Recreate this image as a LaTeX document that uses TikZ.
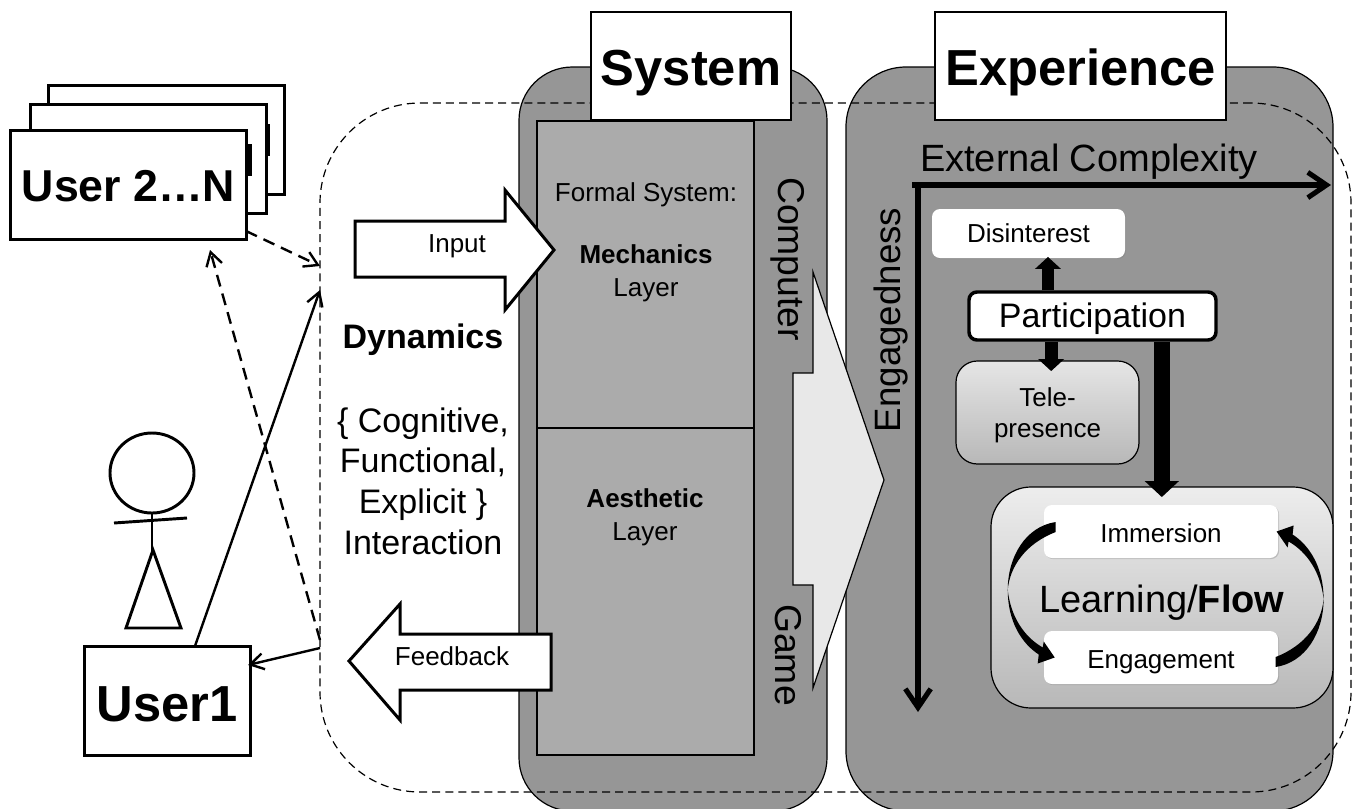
\documentclass[tikz,border=0pt]{standalone}
\usepackage{fontspec}
\setmainfont{Liberation Sans}
\usetikzlibrary{arrows.meta,shadows}
\newcommand{\fsz}[1]{\fontsize{#1}{#1}\selectfont}
\newcommand{\low}[2]{\raisebox{-#1}[\height][\depth]{#2}}
% tapered arc between the two flow boxes
\newcommand{\looparc}{\fill (12,-9.5) .. controls (-18,-5) and (-36,25) .. (-36,58.5)
  .. controls (-36,90) and (-22,112) .. (-5,123) -- (-6,132) -- (11,126) -- (0,110) -- (-1,116)
  .. controls (-20,105) and (-33,85) .. (-36,58.5) .. controls (-34,35) and (-18,12) .. (12,.5) -- cycle;}
\tikzset{
  userbox/.style={draw,line width=2.25pt,fill=white,inner sep=0pt,minimum width=177pt,minimum height=81.75pt},
  panel/.style={draw,line width=.9pt,fill=panelgray,inner sep=0pt,minimum height=558pt},
  titlebox/.style={draw,line width=2pt,fill=white,inner sep=0pt,minimum height=81pt,font=\fsz{38}\bfseries},
  layerbox/.style={draw,line width=.9pt,fill=layergray,inner sep=0pt,minimum width=162.75pt},
  whitebox/.style={fill=white,rounded corners=6pt,inner sep=0pt,font=\fsz{19.5},
    drop shadow={shadow xshift=.8pt,shadow yshift=-.8pt,opacity=.35}},
  gradbox/.style={draw,line width=.9pt,top color=#1,bottom color=black!28,inner sep=0pt},
  bigarrow/.style={draw,line width=2.25pt,fill=white},
  thickarrow/.style={line width=9.5pt,-{Triangle[width=19pt,length=9pt]}},
  axisline/.style={line width=3.8pt,-{Straight Barb[length=14pt,width=19pt,line width=3.8pt]}},
  linkline/.style={line width=1.8pt,-{Straight Barb[length=10pt,width=12pt,line width=1.8pt]}},
  dashlink/.style={linkline,dash pattern=on 9pt off 5.5pt},
  stickline/.style={line width=2.2pt},
  label/.style={font=\fsz{19.5},inner sep=0pt}
}
\definecolor{panelgray}{HTML}{969696}
\definecolor{layergray}{HTML}{ABABAB}
\begin{document}
\begin{tikzpicture}[x=.75pt,y=-.75pt]
\useasboundingbox (0,0) rectangle (1354,808);

% panels behind everything
\node[panel,minimum width=231pt,rounded corners=40pt] (systempanel) at (673,439) {};
\node[panel,minimum width=365.25pt,rounded corners=45pt] (experiencepanel) at (1089.5,439) {};
\node[layerbox,minimum height=230.25pt] (mechlayer) at (645.5,274.5) {};
\node[layerbox,minimum height=245.25pt] (aestlayer) at (645.5,591.5) {};

% dashed dynamics region
\node[draw,dash pattern=on 6pt off 3.8pt,line width=.9pt,rounded corners=75pt,inner sep=0pt,minimum width=773.25pt,minimum height=516.75pt] (dynregion) at (835.5,447.5) {};

\node[titlebox,minimum width=150pt] (systemtitle) at (691,66) {\low{5pt}{System}};
\node[titlebox,minimum width=218.25pt] (experiencetitle) at (1080.5,66) {\low{5pt}{Experience}};

% users
\node[userbox] (userback) at (166,139.5) {};
\fill (266,124) rectangle (270,156);
\node[userbox] (usermid) at (148,158.5) {};
\fill (246,144) rectangle (252,176);
\node[userbox,font=\fsz{33.5}\bfseries] (usertwo) at (128.5,185) {\low{1pt}{User 2…N}};
\node[userbox,minimum width=124.5pt,font=\fsz{38}\bfseries] (userone) at (167,700.5) {\low{3pt}{User1}};

% stick figure
\draw[stickline] (152,473) ellipse (42 and 40);
\draw[stickline] (152,513) -- (152,552);
\draw[stickline] (114,523) -- (187,518);
\draw[stickline] (153,550) -- (126,628) -- (181,628) -- cycle;

% links between users and region
\coordinate (regionin) at (320,290);
\coordinate (regionmid) at (320,266);
\coordinate (regionout) at (320,648);
\coordinate (regionback) at (320,640);
\coordinate (usertwoin) at (210,250);
\draw[linkline] (195,646) -- (regionin);
\draw[linkline] (regionout) -- (248,665);
\draw[dashlink] (regionback) -- (usertwoin);
\draw[dashlink] (246,231) -- (regionmid);

% input and feedback arrows
\draw[bigarrow] (355,221) -- (505,221) -- (505,190) -- (554,250) -- (505,310) -- (505,277) -- (355,277) -- cycle;
\node[label] (inputlabel) at (457,246) {Input};
\draw[bigarrow] (551,634) -- (400,634) -- (400,604) -- (349,661) -- (400,720) -- (400,690) -- (551,690) -- cycle;
\node[label] (feedbacklabel) at (452,656) {Feedback};

\node[font=\fsz{25.5}\bfseries,inner sep=0pt] (dynamics) at (423,340) {Dynamics};
\node[font=\fsz{25.5},align=center,inner sep=0pt] (interaction) at (423,481) {\{ Cognitive,\\[5pt]Functional,\\[5pt]Explicit \}\\[5pt]Interaction};

% layer labels
\node[label] (formal) at (646,195) {Formal System:};
\node[label,font=\fsz{19.5}\bfseries] (mechanics) at (646,254) {Mechanics};
\node[label] (mechlabel) at (646,290) {Layer};
\node[label,font=\fsz{19.5}\bfseries] (aesthetic) at (645,498) {Aesthetic};
\node[label] (aestlabel) at (645,534) {Layer};

% computer game arrow
\draw[line width=.9pt,fill=black!9] (793,373) -- (813,373) -- (813,272) -- (884,480) -- (813,688) -- (813,585) -- (793,585) -- cycle;
\node[font=\fsz{28},rotate=-90,inner sep=0pt] (computer) at (788,259) {Computer};
\node[font=\fsz{28},rotate=-90,inner sep=0pt] (game) at (788,655) {Game};

% axes
\coordinate (axisorigin) at (912,185);
\coordinate (axisxend) at (1331,185);
\coordinate (axistop) at (918,183);
\coordinate (axisyend) at (918,712);
\draw[axisline] (axisorigin) -- (axisxend);
\draw[axisline] (axistop) -- (axisyend);
\node[font=\fsz{28.5},inner sep=0pt] (complexity) at (1089,162) {External Complexity};
\node[font=\fsz{27.5},rotate=90,inner sep=0pt] (engagedness) at (891,320) {Engagedness};

% experience states
\node[whitebox,minimum width=144.75pt,minimum height=36.75pt] (disinterest) at (1028.5,233.5) {Disinterest};
\node[draw,gradbox=black!10,rounded corners=16pt,minimum width=137.25pt,minimum height=77.25pt,font=\fsz{19.5},align=center] (telepresence) at (1047.5,412.5) {\low{2.2pt}{Tele-}\\[4pt]\low{2.2pt}{presence}};
\node[draw,gradbox=black!7,rounded corners=30pt,minimum width=256.5pt,minimum height=165.75pt] (flowbox) at (1162,597.5) {};
\node[draw,line width=2.6pt,fill=white,rounded corners=6pt,inner sep=0pt,minimum width=185.25pt,minimum height=36pt,font=\fsz{25.5}] (participation) at (1092.5,316) {\low{2.2pt}{Participation}};
\node[whitebox,minimum width=175.5pt,minimum height=39.75pt] (immersion) at (1161,531.5) {\low{1.5pt}{Immersion}};
\node[whitebox,minimum width=175.5pt,minimum height=39.75pt] (engagement) at (1161,657.5) {\low{3.5pt}{Engagement}};
\node[font=\fsz{28.5},inner sep=0pt] (learning) at (1162,603) {Learning/\textbf{Flow}};

\draw[thickarrow] ([xshift=-33.4pt]participation.north) -- ([xshift=-33.4pt,yshift=1pt]participation.north |- disinterest.south);
\draw[thickarrow] ([xshift=-31pt]participation.south) -- ([xshift=-31pt,yshift=-8pt]participation.south |- telepresence.north);
\draw[thickarrow,line width=12.5pt,-{Triangle[width=25pt,length=12pt]}] ([xshift=52pt]participation.south) -- ([xshift=52pt,yshift=-8pt]participation.south |- flowbox.north);

% flow loop
\begin{scope}[shift={(immersion.west)}]
\looparc
\end{scope}
\begin{scope}[shift={([xshift=7pt]engagement.east)},rotate=180]
\looparc
\end{scope}
\end{tikzpicture}
\end{document}
